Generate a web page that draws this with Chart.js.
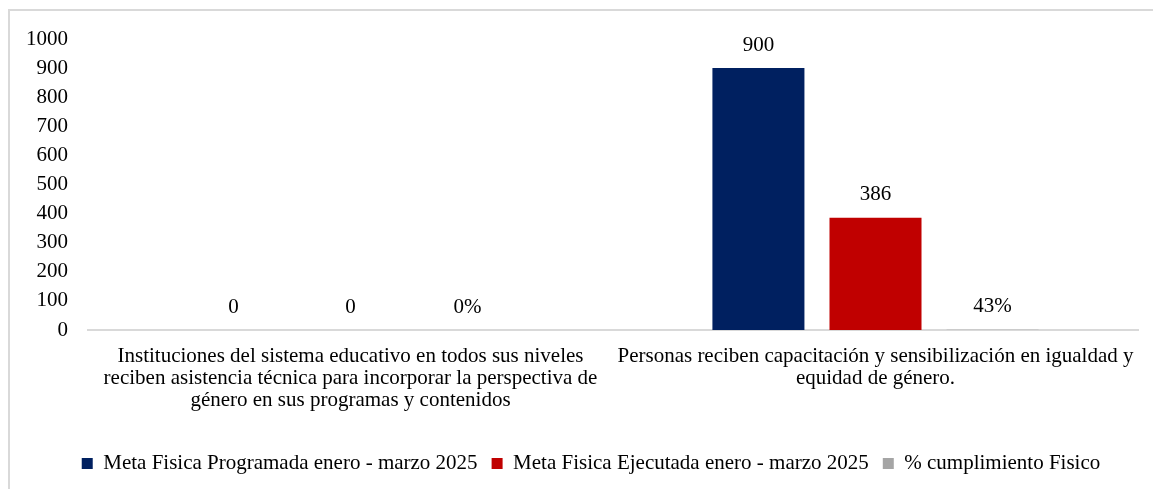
<!DOCTYPE html>
<html>
<head>
<meta charset="utf-8">
<script src="https://cdn.jsdelivr.net/npm/chart.js@4.4.1/dist/chart.umd.min.js"></script>
<style>
  html, body { margin: 0; padding: 0; background: #fff; }
  #frame { position: absolute; left: 8px; top: 9px; width: 1160px; height: 500px;
           border-top: 2px solid #d9d9d9; border-left: 2px solid #d9d9d9; box-sizing: border-box; }
  #wrap { position: absolute; left: 0; top: 0; width: 1153px; height: 489px; }
</style>
</head>
<body>
<div id="frame"></div>
<div id="wrap"><canvas id="metaChart"></canvas></div>
<script>
const categories = [
    ['Instituciones del sistema educativo en todos sus niveles', 'reciben asistencia técnica para incorporar la perspectiva de', 'género en sus programas y contenidos'],
    ['Personas reciben capacitación y sensibilización en igualdad y', 'equidad de género.']
];
const programada = [0, 900];
const ejecutada = [0, 386];
const cumplimiento = [0, 0.43];
const yTicks = [0, 100, 200, 300, 400, 500, 600, 700, 800, 900, 1000];

const serif = "'Liberation Serif', 'Times New Roman', serif";

// draws the numbers above each bar
const valueLabels = {
    id: 'valueLabels',
    afterDatasetsDraw(chart) {
        const ctx = chart.ctx;
        ctx.save();
        ctx.font = '21px ' + serif;
        ctx.fillStyle = '#000';
        ctx.textAlign = 'center';
        ctx.textBaseline = 'middle';
        chart.data.datasets.forEach((ds, i) => {
            const meta = chart.getDatasetMeta(i);
            meta.data.forEach((bar, j) => {
                const v = ds.data[j];
                const txt = i === 2 ? Math.round(v * 100) + '%' : v.toString();
                ctx.fillText(txt, bar.x, bar.y - 23);
            });
        });
        ctx.restore();
    }
};

// legend in the original sits a bit right of the canvas centre
const legendShift = {
    id: 'legendShift',
    afterLayout(chart) {
        chart.legend.left += 22;
        chart.legend.right += 22;
    }
};

const ctx = document.getElementById('metaChart').getContext('2d');
const chart = new Chart(ctx, {
    type: 'bar',
    data: {
        labels: categories,
        datasets: [
            {
                label: 'Meta Fisica Programada enero - marzo 2025',
                data: programada,
                backgroundColor: '#002060',
            },
            {
                label: 'Meta Fisica Ejecutada enero - marzo 2025',
                data: ejecutada,
                backgroundColor: '#c00000',
            },
            {
                label: '% cumplimiento Fisico',
                data: cumplimiento,
                backgroundColor: '#a5a5a5',
                inflateAmount: 0,
            },
        ],
    },
    options: {
        responsive: true,
        maintainAspectRatio: false,
        animation: false,
        categoryPercentage: 0.669,
        barPercentage: 0.786,
        layout: {
            padding: { left: 0, right: 15, top: 39, bottom: 5 }
        },
        plugins: {
            legend: {
                position: 'bottom',
                labels: {
                    color: '#000',
                    boxWidth: 11,
                    boxHeight: 11,
                    padding: 14,
                    font: { family: serif, size: 21 },
                },
            },
            tooltip: { enabled: false },
        },
        scales: {
            x: {
                afterFit(scale) { scale.height = 109; },
                grid: { display: false },
                border: { display: true, color: '#d9d9d9', width: 2 },
                ticks: {
                    color: '#000',
                    padding: 7,
                    maxRotation: 0,
                    autoSkip: false,
                    font: { family: serif, size: 21, lineHeight: '22px' },
                },
            },
            y: {
                min: 0,
                max: 1000,
                afterFit(scale) { scale.width = 88; },
                afterBuildTicks(scale) { scale.ticks = yTicks.map(v => ({ value: v })); },
                grid: { display: false },
                border: { display: false },
                ticks: {
                    color: '#000',
                    padding: 12,
                    font: { family: serif, size: 21 },
                    callback: v => String(v),
                },
            },
        },
    },
    plugins: [valueLabels, legendShift]
});
</script>
</body>
</html>
